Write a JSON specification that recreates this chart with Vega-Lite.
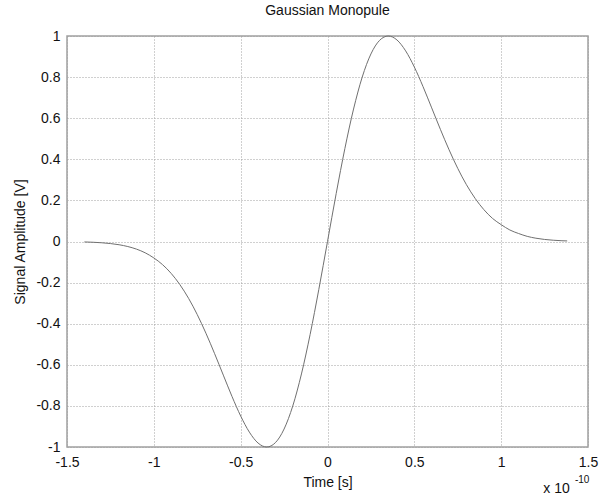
{
  "$schema": "https://vega.github.io/schema/vega-lite/v6.json",
  "width": 521,
  "height": 411,
  "autosize": {"type": "none"},
  "padding": {"left": 67, "top": 36, "right": 11, "bottom": 48},
  "background": "white",
  "title": {"text": "Gaussian Monopule", "font": "Liberation Sans", "fontSize": 14, "fontWeight": "normal", "color": "#111", "offset": 11, "anchor": "middle"},
  "config": {
    "view": {"stroke": "#a0a0a0", "strokeWidth": 1.5},
    "axis": {
      "labelFont": "Liberation Sans", "labelFontSize": 14, "labelColor": "#111",
      "titleFont": "Liberation Sans", "titleFontSize": 14, "titleFontWeight": "normal", "titleColor": "#111",
      "grid": true, "gridColor": "#a0a0a0", "gridDash": [1, 2], "gridWidth": 1,
      "domain": false, "ticks": false
    }
  },
  "datasets": {
    "pulse": [
      {"t": -1.40, "v": -0.0022}, {"t": -1.35, "v": -0.0037}, {"t": -1.30, "v": -0.0062},
      {"t": -1.25, "v": -0.0100}, {"t": -1.20, "v": -0.0158}, {"t": -1.15, "v": -0.0245},
      {"t": -1.10, "v": -0.0371}, {"t": -1.05, "v": -0.0549}, {"t": -1.00, "v": -0.0800},
      {"t": -0.95, "v": -0.1125}, {"t": -0.90, "v": -0.1554}, {"t": -0.85, "v": -0.2098},
      {"t": -0.80, "v": -0.2765}, {"t": -0.75, "v": -0.3557}, {"t": -0.70, "v": -0.4463},
      {"t": -0.65, "v": -0.5458}, {"t": -0.60, "v": -0.6502}, {"t": -0.55, "v": -0.7538},
      {"t": -0.50, "v": -0.8490}, {"t": -0.45, "v": -0.9275}, {"t": -0.40, "v": -0.9807},
      {"t": -0.35, "v": -1.0}, {"t": -0.30, "v": -0.9788}, {"t": -0.25, "v": -0.9125},
      {"t": -0.20, "v": -0.8002}, {"t": -0.15, "v": -0.6446}, {"t": -0.10, "v": -0.4522},
      {"t": -0.05, "v": -0.2331}, {"t": 0.00, "v": 0.0}, {"t": 0.05, "v": 0.2331},
      {"t": 0.10, "v": 0.4522}, {"t": 0.15, "v": 0.6446}, {"t": 0.20, "v": 0.8002},
      {"t": 0.25, "v": 0.9125}, {"t": 0.30, "v": 0.9788}, {"t": 0.35, "v": 1.0},
      {"t": 0.40, "v": 0.9807}, {"t": 0.45, "v": 0.9275}, {"t": 0.50, "v": 0.8490},
      {"t": 0.55, "v": 0.7538}, {"t": 0.60, "v": 0.6502}, {"t": 0.65, "v": 0.5458},
      {"t": 0.70, "v": 0.4463}, {"t": 0.75, "v": 0.3557}, {"t": 0.80, "v": 0.2765},
      {"t": 0.85, "v": 0.2098}, {"t": 0.90, "v": 0.1554}, {"t": 0.95, "v": 0.1125},
      {"t": 1.00, "v": 0.0820}, {"t": 1.05, "v": 0.0560}, {"t": 1.10, "v": 0.0390},
      {"t": 1.15, "v": 0.0250}, {"t": 1.20, "v": 0.0160}, {"t": 1.25, "v": 0.0100},
      {"t": 1.30, "v": 0.0062}, {"t": 1.35, "v": 0.0037}, {"t": 1.38, "v": 0.0028}
    ],
    "exponent": [
      {"t": 1.243, "v": -1.224, "label": "x 10", "size": 14},
      {"t": 1.425, "v": -1.176, "label": "-10", "size": 10}
    ]
  },
  "layer": [
    {
      "data": {"name": "pulse"},
      "mark": {"type": "line", "color": "#707070", "strokeWidth": 1, "interpolate": "monotone", "clip": false},
      "encoding": {
        "x": {"field": "t", "type": "quantitative",
              "scale": {"domain": [-1.5, 1.5], "nice": false, "zero": false},
              "axis": {"values": [-1.5, -1, -0.5, 0, 0.5, 1, 1.5], "labelExpr": "'' + datum.value", "title": "Time [s]", "labelPadding": 8, "titlePadding": 6, "labelFlush": false}},
        "y": {"field": "v", "type": "quantitative",
              "scale": {"domain": [-1, 1], "nice": false, "zero": false},
              "axis": {"values": [-1, -0.8, -0.6, -0.4, -0.2, 0, 0.2, 0.4, 0.6, 0.8, 1], "labelExpr": "'' + datum.value", "title": "Signal Amplitude [V]", "labelPadding": 7, "titlePadding": 8, "labelFlush": false}}
      }
    },
    {
      "data": {"name": "exponent"},
      "mark": {"type": "text", "align": "left", "baseline": "alphabetic", "font": "Liberation Sans", "color": "#111", "clip": false},
      "encoding": {
        "x": {"field": "t", "type": "quantitative"},
        "y": {"field": "v", "type": "quantitative"},
        "text": {"field": "label"},
        "size": {"field": "size", "type": "quantitative", "scale": null}
      }
    }
  ]
}
